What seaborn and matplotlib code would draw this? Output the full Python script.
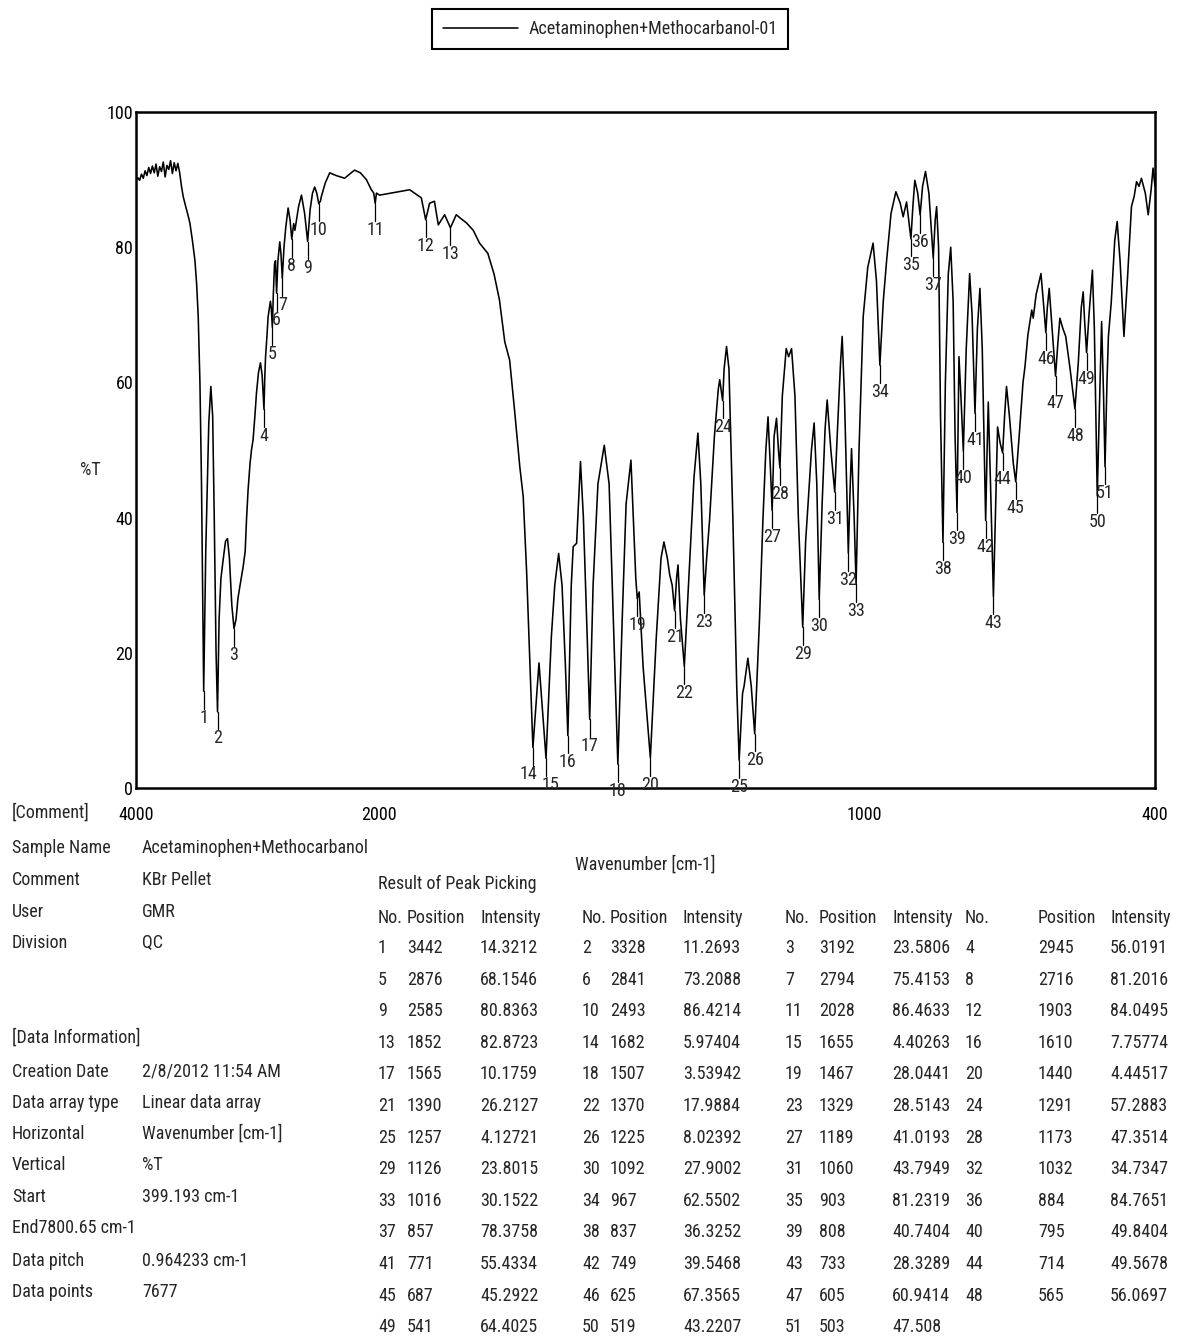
import numpy as np
import pandas as pd
import matplotlib
matplotlib.use("Agg")
import matplotlib.pyplot as plt
import seaborn as sns
from matplotlib import font_manager
from matplotlib.font_manager import FontProperties
from matplotlib.textpath import TextPath

# ---------------- data ----------------
series_label = "Acetaminophen+Methocarbanol-01"

# peak table (No. is index+1)
peak_pos = [3442, 3328, 3192, 2945, 2876, 2841, 2794, 2716, 2585, 2493, 2028, 1903, 1852,
            1682, 1655, 1610, 1565, 1507, 1467, 1440, 1390, 1370, 1329, 1291, 1257, 1225,
            1189, 1173, 1126, 1092, 1060, 1032, 1016, 967, 903, 884, 857, 837, 808, 795,
            771, 749, 733, 714, 687, 625, 605, 565, 541, 519, 503]
peak_int = ["14.3212", "11.2693", "23.5806", "56.0191", "68.1546", "73.2088", "75.4153",
            "81.2016", "80.8363", "86.4214", "86.4633", "84.0495", "82.8723", "5.97404",
            "4.40263", "7.75774", "10.1759", "3.53942", "28.0441", "4.44517", "26.2127",
            "17.9884", "28.5143", "57.2883", "4.12721", "8.02392", "41.0193", "47.3514",
            "23.8015", "27.9002", "43.7949", "34.7347", "30.1522", "62.5502", "81.2319",
            "84.7651", "78.3758", "36.3252", "40.7404", "49.8404", "55.4334", "39.5468",
            "28.3289", "49.5678", "45.2922", "67.3565", "60.9414", "56.0697", "64.4025",
            "43.2207", "47.508"]

# spectrum points between peaks (maxima, shoulders, flanks)
curve_wn = [4000, 3985, 3970, 3955, 3940, 3925, 3910, 3895, 3880, 3865, 3850, 3835, 3820,
            3805, 3790, 3775, 3760, 3745, 3730, 3715, 3700, 3685, 3670, 3655, 3640, 3625,
            3611, 3590, 3575, 3556, 3535, 3514, 3500, 3487, 3473, 3460, 3450,
            3425, 3400, 3383, 3368, 3355, 3340,
            3315, 3300, 3280, 3262, 3246, 3230, 3210,
            3175, 3160, 3144, 3117, 3100, 3089, 3076, 3060, 3048, 3035, 3020, 3007, 2990,
            2974, 2960, 2938, 2932, 2920, 2911, 2892, 2885, 2868, 2858, 2850, 2830, 2815,
            2805, 2780, 2765, 2746, 2730, 2700, 2690, 2677, 2660, 2636, 2610, 2565, 2545,
            2527, 2510, 2480, 2472, 2440, 2403, 2350, 2280, 2240, 2198, 2150, 2101, 2060,
            2040, 2018, 1998, 1960, 1936, 1912, 1895, 1885, 1877, 1864, 1840, 1830, 1819,
            1805, 1792, 1775, 1762, 1751, 1740, 1730, 1720, 1709, 1702, 1695, 1689,
            1669.5, 1644, 1637, 1629, 1622, 1615, 1603, 1599, 1592, 1584, 1578, 1570,
            1558, 1548, 1535, 1525, 1515, 1498, 1490, 1480, 1474, 1470, 1463, 1455,
            1428, 1418, 1412, 1405, 1400, 1395, 1386, 1383, 1378, 1360, 1350, 1342, 1336,
            1324, 1318, 1308, 1300, 1297, 1288, 1283, 1278, 1270, 1262, 1250, 1247, 1239,
            1232, 1215, 1208, 1202, 1197.5, 1193, 1185, 1180, 1176, 1168, 1160, 1155, 1149,
            1142, 1135, 1120, 1115, 1108, 1102.5, 1097, 1086, 1080, 1075.6, 1068, 1055,
            1048, 1044.7, 1040, 1028, 1025.4, 1020, 1010, 1001.4, 992, 981, 974, 960, 953,
            944, 934, 925, 919, 912, 899, 895, 889, 879, 873, 866, 853, 850, 846, 842,
            832, 826, 821, 816, 812, 804, 800, 789, 782, 777, 766, 760.8, 756, 746, 743.6,
            739, 729, 724.4, 719, 710, 706, 700, 692, 680, 672, 668, 662, 654, 651, 645,
            635, 629, 622, 618, 612, 600, 596, 590, 584, 575, 558, 552, 548, 545, 536,
            529, 525, 515, 510, 506, 499, 496, 490, 483, 478, 472, 464, 457, 448.5, 443,
            438, 433, 428, 420, 414, 408, 404, 400]
curve_t = [89.8, 90.3, 89.9, 90.8, 90.2, 91.3, 90.6, 91.8, 90.9, 92.0, 91.0, 92.3, 90.5,
           91.9, 91.2, 92.6, 90.4, 92.1, 91.5, 92.8, 90.9, 92.5, 91.3, 92.4, 91.0, 89.0,
           87.5, 86.0, 85.0, 83.6, 81.0, 78.0, 74.5, 69.7, 60.0, 45.0, 28.0,
           35.0, 54.0, 59.4, 55.0, 40.0, 20.0,
           25.0, 31.0, 34.0, 36.5, 36.9, 34.0, 27.0,
           25.0, 28.0, 29.8, 32.7, 35.0, 39.7, 44.1, 48.0, 50.0, 51.5, 55.0, 58.4, 61.5,
           62.9, 61.0, 61.0, 63.8, 67.0, 69.7, 72.0, 71.0, 73.0, 77.5, 78.0, 78.0, 80.8,
           79.0, 80.0, 83.0, 85.8, 84.0, 83.5, 82.5, 84.0, 86.0, 87.7, 85.0, 85.5, 88.0,
           88.9, 88.0, 86.8, 87.5, 89.5, 91.0, 90.6, 90.2, 90.8, 91.4, 91.0, 90.0, 88.5,
           88.0, 88.0, 87.7, 88.2, 88.5, 87.3, 86.5, 86.8, 83.3, 84.8, 84.8, 84.2, 83.6,
           82.5, 80.6, 79.1, 76.0, 72.2, 66.0, 63.3, 56.0, 47.5, 43.1, 32.0, 20.0,
           18.5, 22.4, 30.0, 34.7, 30.0, 18.0, 30.0, 35.7, 36.2, 48.3, 40.0, 22.0,
           30.0, 45.0, 50.7, 45.0, 22.0, 25.0, 42.0, 48.5, 38.0, 31.0, 29.0, 18.0,
           22.0, 34.0, 36.4, 34.0, 31.5, 30.0, 31.0, 33.0, 25.0, 32.0, 46.0, 52.5, 45.0,
           34.0, 39.6, 52.0, 59.0, 60.4, 62.0, 65.3, 62.0, 40.0, 15.0, 14.0, 15.0, 19.2,
           15.0, 25.0, 39.7, 50.0, 54.9, 48.0, 52.0, 54.7, 50.0, 58.0, 65.0, 63.8, 65.0,
           58.0, 40.0, 36.5, 42.0, 50.0, 54.0, 45.0, 42.0, 53.0, 57.4, 50.0, 52.0,
           63.0, 66.8, 58.0, 45.0, 50.2, 40.0, 50.0, 69.7, 77.0, 80.6, 75.0, 72.0, 78.1,
           85.0, 88.2, 86.5, 84.5, 86.7, 86.0, 89.9, 88.0, 89.0, 91.2, 88.0, 84.0, 86.0, 80.0, 55.0,
           60.0, 76.0, 80.0, 72.0, 52.0, 63.8, 58.0, 65.0, 76.1, 70.0, 68.0, 73.9, 65.0, 50.0, 57.1,
           45.0, 40.0, 53.4, 51.0, 55.0, 59.4, 55.0, 48.0, 52.0, 60.0, 62.3, 67.0, 70.7, 69.5, 73.0,
           76.1, 71.0, 71.0, 73.9, 68.0, 66.0, 69.5, 68.0, 66.8, 62.0, 63.0, 71.0, 73.4, 69.0, 70.0,
           76.6, 68.0, 55.0, 69.0, 58.0, 60.0, 66.8, 72.0, 81.0, 83.8, 78.0, 66.8, 75.0, 86.0, 87.5,
           89.7, 89.0, 90.2, 88.0, 84.8, 88.5, 91.7, 89.0]

meta_labels = ["[Comment]", "Sample Name", "Comment", "User", "Division",
               "[Data Information]", "Creation Date", "Data array type", "Horizontal",
               "Vertical", "Start", "End7800.65 cm-1", "Data pitch", "Data points"]
meta_values = ["", "Acetaminophen+Methocarbanol", "KBr Pellet", "GMR", "QC",
               "", "2/8/2012 11:54 AM", "Linear data array", "Wavenumber [cm-1]",
               "%T", "399.193 cm-1", "", "0.964233 cm-1", "7677"]

x_ticks = [4000, 2000, 1000, 400]
x_minor = [3000, 500]
y_ticks = [0, 20, 40, 60, 80, 100]
y_minor = [10, 30, 50, 70, 90]

# ---------------- build spectrum table ----------------
peak_t = [float(s) for s in peak_int]
df = pd.DataFrame({"wn": list(curve_wn) + peak_pos, "T": list(curve_t) + peak_t})
df = df.sort_values("wn", ascending=False).reset_index(drop=True)

# ---------------- style ----------------
sns.set_style("white")
names = {f.name for f in font_manager.fontManager.ttflist}
fam = "Liberation Sans"
for cand in ["Liberation Sans Narrow", "Arimo Narrow", "Roboto Condensed",
             "Archivo Narrow", "PT Sans Narrow", "Fira Sans Condensed",
             "IBM Plex Sans Condensed"]:
    if cand in names:
        fam = cand
        break
plt.rcParams["font.family"] = [fam, "DejaVu Sans"]

# font size so that the sample name spans ~225 px, as in the reference
_w = TextPath((0, 0), "Acetaminophen+Methocarbanol", size=100,
              prop=FontProperties(family=fam)).get_extents().width
FS = float(np.clip(100 * 226 * 0.72 / _w, 10.0, 15.0))

W, H = 1178, 1342
fig = plt.figure(figsize=(W / 100, H / 100), dpi=100)
L, R, T, B = 136, 1155, 112, 788
ax = fig.add_axes([L / W, 1 - B / H, (R - L) / W, (B - T) / H])


def fwd(w):
    w = np.asarray(w, dtype=float)
    return np.where(w >= 2000, (w - 2000) / 4.0, w - 2000)


def inv(u):
    u = np.asarray(u, dtype=float)
    return np.where(u >= 0, 2000 + 4 * u, 2000 + u)


ax.set_xscale("function", functions=(fwd, inv))

sns.lineplot(data=df, x="wn", y="T", sort=False, estimator=None, color="black",
             linewidth=1.15, ax=ax, label=series_label)

ax.set_xlim(4000, 400)
ax.set_ylim(0, 100)

# peak markers and numbers (a few crowded labels nudged sideways, in points)
nudge = {14: -3.0, 15: 3.0}
for i, (p, t) in enumerate(zip(peak_pos, peak_t)):
    n = i + 1
    ax.plot([p, p], [t, t - 2.6], color="black", linewidth=0.9)
    ax.annotate(str(n), xy=(p, t - 2.6), xytext=(nudge.get(n, 0.0), 0),
                textcoords="offset points", ha="center", va="top", fontsize=FS,
                annotation_clip=False)

ax.set_xticks(x_ticks)
ax.set_xticklabels([str(v) for v in x_ticks])
ax.set_xticks(x_minor, minor=True)
ax.set_yticks(y_ticks)
ax.set_yticklabels([str(v) for v in y_ticks])
ax.set_yticks(y_minor, minor=True)
ax.tick_params(axis="x", which="major", direction="in", length=17, width=1.4,
               labelsize=FS, pad=13, colors="black")
ax.tick_params(axis="x", which="minor", direction="in", length=11, width=1.4)
ax.tick_params(axis="y", which="major", direction="in", length=10, width=1.3,
               labelsize=FS, pad=2, colors="black")
ax.tick_params(axis="y", which="minor", direction="in", length=7, width=1.3)
for s in ax.spines.values():
    s.set_visible(True)
    s.set_color("black")
    s.set_linewidth(1.8)

ax.set_xlabel("Wavenumber [cm-1]", fontsize=FS)
ax.xaxis.set_label_coords(0.4995, -0.099)
ax.set_ylabel("%T", fontsize=FS, rotation=0, va="center", ha="center")
ax.yaxis.set_label_coords(-0.045, 0.47)

leg = ax.legend(loc="center", bbox_to_anchor=(610 / W, 1 - 29 / H),
                bbox_transform=fig.transFigure, frameon=True, fancybox=False,
                edgecolor="black", handlelength=54.0 / FS, handletextpad=0.6,
                fontsize=FS, borderpad=0.6)
leg.get_frame().set_linewidth(1.5)
leg.get_frame().set_alpha(1)

# ---------------- text blocks ----------------
meta_y = [813, 848, 880, 912, 943, 1038, 1072, 1103, 1134, 1165, 1197, 1228, 1261, 1292]
for lab, val, y in zip(meta_labels, meta_values, meta_y):
    fig.text(12 / W, 1 - y / H, lab, fontsize=FS, va="center", ha="left")
    if val:
        fig.text(142 / W, 1 - y / H, val, fontsize=FS, va="center", ha="left")

fig.text(378 / W, 1 - 884 / H, "Result of Peak Picking", fontsize=FS, va="center", ha="left")
col_x = [(378, 407, 480), (582, 610, 683), (785, 819, 892), (965, 1038, 1110)]
hy = 918
for g, (xn, xp, xi) in enumerate(col_x):
    fig.text(xn / W, 1 - hy / H, "No.", fontsize=FS, va="center", ha="left")
    fig.text(xp / W, 1 - hy / H, "Position", fontsize=FS, va="center", ha="left")
    fig.text(xi / W, 1 - hy / H, "Intensity", fontsize=FS, va="center", ha="left")
for i, (p, s) in enumerate(zip(peak_pos, peak_int)):
    r, g = divmod(i, 4)
    y = 948 + 31.6 * r
    xn, xp, xi = col_x[g]
    fig.text(xn / W, 1 - y / H, str(i + 1), fontsize=FS, va="center", ha="left")
    fig.text(xp / W, 1 - y / H, str(p), fontsize=FS, va="center", ha="left")
    fig.text(xi / W, 1 - y / H, s, fontsize=FS, va="center", ha="left")

fig.savefig("out.png", dpi=100, facecolor="white")
